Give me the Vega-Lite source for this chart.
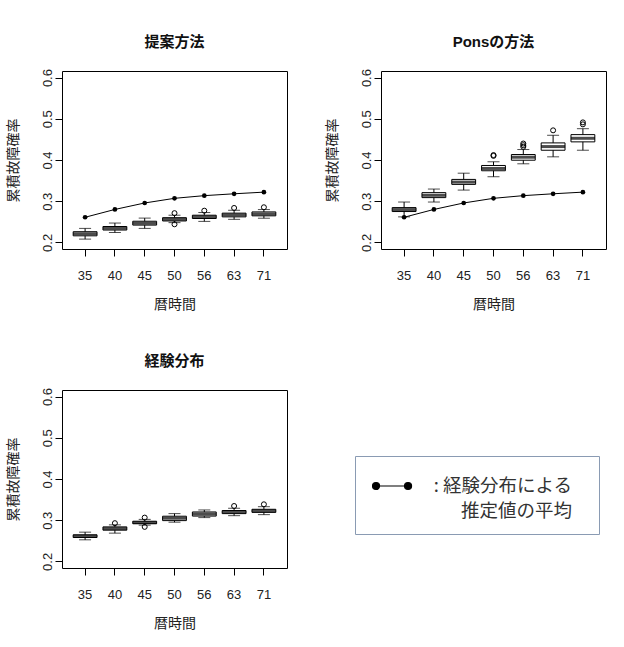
{
  "$schema": "https://vega.github.io/schema/vega-lite/v6.json",
  "background": "white",
  "padding": {"left": 5, "top": 34, "right": 5, "bottom": 5},
  "datasets": {
    "boxes": [
      {"panel": "提案方法", "time": "35", "lo": 0.208, "q1": 0.216, "med": 0.221, "q3": 0.226, "hi": 0.234},
      {"panel": "提案方法", "time": "40", "lo": 0.224, "q1": 0.230, "med": 0.2345, "q3": 0.2386, "hi": 0.247},
      {"panel": "提案方法", "time": "45", "lo": 0.234, "q1": 0.242, "med": 0.2466, "q3": 0.2514, "hi": 0.259},
      {"panel": "提案方法", "time": "50", "lo": 0.248, "q1": 0.252, "med": 0.256, "q3": 0.260, "hi": 0.266},
      {"panel": "提案方法", "time": "56", "lo": 0.251, "q1": 0.258, "med": 0.262, "q3": 0.266, "hi": 0.2725},
      {"panel": "提案方法", "time": "63", "lo": 0.256, "q1": 0.262, "med": 0.2667, "q3": 0.271, "hi": 0.278},
      {"panel": "提案方法", "time": "71", "lo": 0.2587, "q1": 0.2645, "med": 0.269, "q3": 0.274, "hi": 0.2797},
      {"panel": "Ponsの方法", "time": "35", "lo": 0.262, "q1": 0.2749, "med": 0.2797, "q3": 0.2845, "hi": 0.298},
      {"panel": "Ponsの方法", "time": "40", "lo": 0.298, "q1": 0.3087, "med": 0.3143, "q3": 0.3208, "hi": 0.3295},
      {"panel": "Ponsの方法", "time": "45", "lo": 0.327, "q1": 0.3408, "med": 0.3464, "q3": 0.3529, "hi": 0.368},
      {"panel": "Ponsの方法", "time": "50", "lo": 0.3594, "q1": 0.3739, "med": 0.3795, "q3": 0.3867, "hi": 0.3957},
      {"panel": "Ponsの方法", "time": "56", "lo": 0.3908, "q1": 0.3995, "med": 0.4068, "q3": 0.4133, "hi": 0.4254},
      {"panel": "Ponsの方法", "time": "63", "lo": 0.4077, "q1": 0.4237, "med": 0.4326, "q3": 0.4415, "hi": 0.46},
      {"panel": "Ponsの方法", "time": "71", "lo": 0.4237, "q1": 0.444, "med": 0.4527, "q3": 0.4616, "hi": 0.476},
      {"panel": "経験分布", "time": "35", "lo": 0.2524, "q1": 0.258, "med": 0.2616, "q3": 0.2645, "hi": 0.271},
      {"panel": "経験分布", "time": "40", "lo": 0.2686, "q1": 0.2758, "med": 0.2797, "q3": 0.2838, "hi": 0.2887},
      {"panel": "経験分布", "time": "45", "lo": 0.288, "q1": 0.2915, "med": 0.2942, "q3": 0.2975, "hi": 0.302},
      {"panel": "経験分布", "time": "50", "lo": 0.2952, "q1": 0.299, "med": 0.3048, "q3": 0.3097, "hi": 0.316},
      {"panel": "経験分布", "time": "56", "lo": 0.3063, "q1": 0.310, "med": 0.315, "q3": 0.320, "hi": 0.3249},
      {"panel": "経験分布", "time": "63", "lo": 0.311, "q1": 0.316, "med": 0.320, "q3": 0.3235, "hi": 0.329},
      {"panel": "経験分布", "time": "71", "lo": 0.3135, "q1": 0.319, "med": 0.3228, "q3": 0.3265, "hi": 0.3328}
    ],
    "outliers": [
      {"panel": "提案方法", "time": "50", "value": 0.271},
      {"panel": "提案方法", "time": "50", "value": 0.244},
      {"panel": "提案方法", "time": "56", "value": 0.277},
      {"panel": "提案方法", "time": "63", "value": 0.2836},
      {"panel": "提案方法", "time": "71", "value": 0.2853},
      {"panel": "Ponsの方法", "time": "50", "value": 0.410},
      {"panel": "Ponsの方法", "time": "50", "value": 0.412},
      {"panel": "Ponsの方法", "time": "56", "value": 0.432},
      {"panel": "Ponsの方法", "time": "56", "value": 0.436},
      {"panel": "Ponsの方法", "time": "56", "value": 0.440},
      {"panel": "Ponsの方法", "time": "63", "value": 0.472},
      {"panel": "Ponsの方法", "time": "71", "value": 0.4865},
      {"panel": "Ponsの方法", "time": "71", "value": 0.4913},
      {"panel": "経験分布", "time": "40", "value": 0.2928},
      {"panel": "経験分布", "time": "45", "value": 0.3063},
      {"panel": "経験分布", "time": "45", "value": 0.2838},
      {"panel": "経験分布", "time": "63", "value": 0.3345},
      {"panel": "経験分布", "time": "71", "value": 0.3386}
    ],
    "means": [
      {"time": "35", "mean": 0.261},
      {"time": "40", "mean": 0.280},
      {"time": "45", "mean": 0.2957},
      {"time": "50", "mean": 0.307},
      {"time": "56", "mean": 0.3135},
      {"time": "63", "mean": 0.318},
      {"time": "71", "mean": 0.322}
    ]
  },
  "vconcat": [
    {
      "hconcat": [
        {
          "width": 225, "height": 178,
          "title": {"text": "提案方法"},
          "layer": [
            {
              "data": {"name": "boxes"},
              "transform": [{"filter": "datum.panel === '提案方法'"}],
              "layer": [
                {"mark": {"type": "rule", "color": "black", "strokeWidth": 1},
                 "encoding": {
                   "x": {"field": "time", "type": "ordinal", "title": "暦時間", "scale": {"type": "band", "paddingInner": 0.2, "paddingOuter": 0.375}},
                   "y": {"field": "lo", "type": "quantitative", "title": "累積故障確率", "scale": {"domain": [0.184, 0.616], "nice": false, "zero": false}},
                   "y2": {"field": "hi"}}},
                {"mark": {"type": "tick", "color": "black", "size": 12, "thickness": 1},
                 "encoding": {"x": {"field": "time", "type": "ordinal"}, "y": {"field": "lo", "type": "quantitative", "title": "累積故障確率"}}},
                {"mark": {"type": "tick", "color": "black", "size": 12, "thickness": 1},
                 "encoding": {"x": {"field": "time", "type": "ordinal"}, "y": {"field": "hi", "type": "quantitative", "title": "累積故障確率"}}},
                {"mark": {"type": "bar", "fill": "white", "stroke": "black", "strokeWidth": 1},
                 "encoding": {"x": {"field": "time", "type": "ordinal"}, "y": {"field": "q1", "type": "quantitative", "title": "累積故障確率"}, "y2": {"field": "q3"}}},
                {"mark": {"type": "tick", "color": "black", "size": 24, "thickness": 3},
                 "encoding": {"x": {"field": "time", "type": "ordinal"}, "y": {"field": "med", "type": "quantitative", "title": "累積故障確率"}}}
              ]
            },
            {
              "data": {"name": "outliers"},
              "transform": [{"filter": "datum.panel === '提案方法'"}],
              "mark": {"type": "point", "shape": "circle", "filled": false, "stroke": "black", "strokeWidth": 1, "size": 25, "opacity": 1},
              "encoding": {"x": {"field": "time", "type": "ordinal"}, "y": {"field": "value", "type": "quantitative", "title": "累積故障確率"}}
            },
            {
              "data": {"name": "means"},
              "mark": {"type": "line", "strokeWidth": 1},
              "encoding": {
                "x": {"field": "time", "type": "ordinal"},
                "y": {"field": "mean", "type": "quantitative", "title": "累積故障確率"},
                "color": {
                  "datum": "経験分布による推定値の平均", "type": "nominal", "scale": {"range": ["black"]},
                  "legend": {
                    "labelExpr": "': 経験分布による\\n推定値の平均'",
                    "encode": {
                      "labels": {"update": {"lineBreak": {"value": "\n"}, "lineHeight": {"value": 25}}},
                      "symbols": {"update": {"fill": {"value": "black"}, "stroke": {"value": "black"}, "opacity": {"value": 1}}}
                    }
                  }
                }
              }
            },
            {
              "data": {"name": "means"},
              "mark": {"type": "point", "shape": "circle", "filled": true, "color": "black", "size": 22, "opacity": 1},
              "encoding": {"x": {"field": "time", "type": "ordinal"}, "y": {"field": "mean", "type": "quantitative", "title": "累積故障確率"}}
            }
          ]
        },
        {
          "width": 225, "height": 178,
          "title": {"text": "Ponsの方法"},
          "layer": [
            {
              "data": {"name": "boxes"},
              "transform": [{"filter": "datum.panel === 'Ponsの方法'"}],
              "layer": [
                {"mark": {"type": "rule", "color": "black", "strokeWidth": 1},
                 "encoding": {
                   "x": {"field": "time", "type": "ordinal", "title": "暦時間", "scale": {"type": "band", "paddingInner": 0.2, "paddingOuter": 0.375}},
                   "y": {"field": "lo", "type": "quantitative", "title": "累積故障確率", "scale": {"domain": [0.184, 0.616], "nice": false, "zero": false}},
                   "y2": {"field": "hi"}}},
                {"mark": {"type": "tick", "color": "black", "size": 12, "thickness": 1},
                 "encoding": {"x": {"field": "time", "type": "ordinal"}, "y": {"field": "lo", "type": "quantitative", "title": "累積故障確率"}}},
                {"mark": {"type": "tick", "color": "black", "size": 12, "thickness": 1},
                 "encoding": {"x": {"field": "time", "type": "ordinal"}, "y": {"field": "hi", "type": "quantitative", "title": "累積故障確率"}}},
                {"mark": {"type": "bar", "fill": "white", "stroke": "black", "strokeWidth": 1},
                 "encoding": {"x": {"field": "time", "type": "ordinal"}, "y": {"field": "q1", "type": "quantitative", "title": "累積故障確率"}, "y2": {"field": "q3"}}},
                {"mark": {"type": "tick", "color": "black", "size": 24, "thickness": 3},
                 "encoding": {"x": {"field": "time", "type": "ordinal"}, "y": {"field": "med", "type": "quantitative", "title": "累積故障確率"}}}
              ]
            },
            {
              "data": {"name": "outliers"},
              "transform": [{"filter": "datum.panel === 'Ponsの方法'"}],
              "mark": {"type": "point", "shape": "circle", "filled": false, "stroke": "black", "strokeWidth": 1, "size": 25, "opacity": 1},
              "encoding": {"x": {"field": "time", "type": "ordinal"}, "y": {"field": "value", "type": "quantitative", "title": "累積故障確率"}}
            },
            {
              "data": {"name": "means"},
              "mark": {"type": "line", "strokeWidth": 1},
              "encoding": {
                "x": {"field": "time", "type": "ordinal"},
                "y": {"field": "mean", "type": "quantitative", "title": "累積故障確率"},
                "color": {"datum": "経験分布による推定値の平均", "type": "nominal", "scale": {"range": ["black"]}}
              }
            },
            {
              "data": {"name": "means"},
              "mark": {"type": "point", "shape": "circle", "filled": true, "color": "black", "size": 22, "opacity": 1},
              "encoding": {"x": {"field": "time", "type": "ordinal"}, "y": {"field": "mean", "type": "quantitative", "title": "累積故障確率"}}
            }
          ]
        }
      ],
      "spacing": 36
    },
    {
      "hconcat": [
        {
          "width": 225, "height": 178,
          "title": {"text": "経験分布"},
          "layer": [
            {
              "data": {"name": "boxes"},
              "transform": [{"filter": "datum.panel === '経験分布'"}],
              "layer": [
                {"mark": {"type": "rule", "color": "black", "strokeWidth": 1},
                 "encoding": {
                   "x": {"field": "time", "type": "ordinal", "title": "暦時間", "scale": {"type": "band", "paddingInner": 0.2, "paddingOuter": 0.375}},
                   "y": {"field": "lo", "type": "quantitative", "title": "累積故障確率", "scale": {"domain": [0.184, 0.616], "nice": false, "zero": false}},
                   "y2": {"field": "hi"}}},
                {"mark": {"type": "tick", "color": "black", "size": 12, "thickness": 1},
                 "encoding": {"x": {"field": "time", "type": "ordinal"}, "y": {"field": "lo", "type": "quantitative", "title": "累積故障確率"}}},
                {"mark": {"type": "tick", "color": "black", "size": 12, "thickness": 1},
                 "encoding": {"x": {"field": "time", "type": "ordinal"}, "y": {"field": "hi", "type": "quantitative", "title": "累積故障確率"}}},
                {"mark": {"type": "bar", "fill": "white", "stroke": "black", "strokeWidth": 1},
                 "encoding": {"x": {"field": "time", "type": "ordinal"}, "y": {"field": "q1", "type": "quantitative", "title": "累積故障確率"}, "y2": {"field": "q3"}}},
                {"mark": {"type": "tick", "color": "black", "size": 24, "thickness": 3},
                 "encoding": {"x": {"field": "time", "type": "ordinal"}, "y": {"field": "med", "type": "quantitative", "title": "累積故障確率"}}}
              ]
            },
            {
              "data": {"name": "outliers"},
              "transform": [{"filter": "datum.panel === '経験分布'"}],
              "mark": {"type": "point", "shape": "circle", "filled": false, "stroke": "black", "strokeWidth": 1, "size": 25, "opacity": 1},
              "encoding": {"x": {"field": "time", "type": "ordinal"}, "y": {"field": "value", "type": "quantitative", "title": "累積故障確率"}}
            }
          ]
        }
      ]
    }
  ],
  "spacing": 41,
  "config": {
    "font": "Liberation Sans, Noto Sans CJK JP",
    "view": {"stroke": "black", "strokeWidth": 1},
    "title": {"fontSize": 15, "fontWeight": "bold", "anchor": "middle", "frame": "group", "offset": 19, "color": "#111"},
    "axis": {
      "grid": false, "domain": false, "tickColor": "black", "tickSize": 7, "tickWidth": 1,
      "labelFontSize": 13, "labelColor": "#222", "titleFontSize": 14, "titleFontWeight": "normal", "titleColor": "#222"
    },
    "axisX": {"labelAngle": 0, "labelPadding": 13.5, "titlePadding": 15},
    "axisY": {"values": [0.2, 0.3, 0.4, 0.5, 0.6], "format": ".1f", "labelAngle": -90, "labelAlign": "center", "labelBaseline": "bottom", "labelPadding": 1, "titlePadding": 21},
    "legend": {
      "orient": "none", "legendX": 293, "legendY": 385, "title": null,
      "strokeColor": "#8a9bb3", "fillColor": "white", "padding": 13,
      "symbolType": "M-0.56,0L1.44,0M-0.78,0A0.22,0.22,0,1,0,-0.34,0A0.22,0.22,0,1,0,-0.78,0ZM1.22,0A0.22,0.22,0,1,0,1.66,0A0.22,0.22,0,1,0,1.22,0ZM12.4,0",
      "symbolSize": 1024, "symbolStrokeWidth": 1.2, "symbolFillColor": "black", "symbolStrokeColor": "black",
      "labelFont": "Noto Sans CJK JP", "labelFontSize": 18.5, "labelColor": "#333", "labelLimit": 400, "labelOffset": 170,
      "labelAlign": "right"
    }
  }
}
